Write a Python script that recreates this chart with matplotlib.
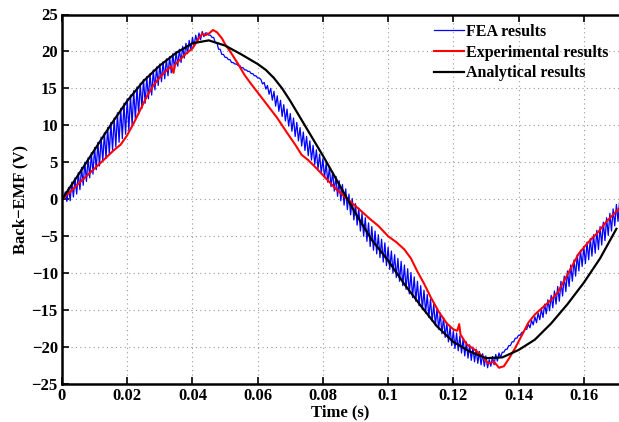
import numpy as np
from matplotlib import pyplot as plt

# Analytical results (black)
ana_t = [0.000, 0.005, 0.010, 0.015, 0.020, 0.025, 0.030, 0.035, 0.040, 0.045,
         0.050, 0.055, 0.060, 0.0625, 0.065, 0.0675, 0.070, 0.075, 0.080, 0.085,
         0.090, 0.095, 0.100, 0.105, 0.110, 0.115, 0.120, 0.125, 0.130, 0.135,
         0.140, 0.145, 0.150, 0.155, 0.160, 0.165, 0.170]
ana_v = [0.0, 3.3, 6.7, 10.1, 13.3, 16.0, 18.1, 19.8, 21.1, 21.5,
         20.8, 19.6, 18.3, 17.5, 16.4, 15.0, 13.3, 9.6, 5.9, 2.0,
         -1.9, -5.5, -8.3, -11.5, -14.4, -17.2, -19.3, -20.6, -21.5, -21.4,
         -20.4, -19.0, -16.8, -14.2, -11.3, -8.0, -4.0]

# Experimental results (red)
exp_t = [0.0, 0.003, 0.006, 0.0096, 0.012, 0.0158, 0.018, 0.0199, 0.022, 0.024,
         0.026, 0.028, 0.030, 0.032, 0.0335, 0.0342, 0.0346, 0.036, 0.038, 0.040,
         0.042, 0.043, 0.044, 0.045, 0.0463, 0.0475, 0.049, 0.050, 0.052, 0.054,
         0.056, 0.058, 0.062, 0.066, 0.069, 0.0715, 0.0735, 0.0755, 0.078, 0.081,
         0.084, 0.0876, 0.091, 0.094, 0.097, 0.100, 0.1025, 0.105, 0.107, 0.109,
         0.111, 0.113, 0.1155, 0.118, 0.120, 0.1212, 0.1218, 0.1222, 0.124, 0.127,
         0.129, 0.1307, 0.1325, 0.134, 0.1355, 0.137, 0.139, 0.1409, 0.143, 0.145,
         0.147, 0.150, 0.152, 0.155, 0.1584, 0.161, 0.1645, 0.167, 0.1707]
exp_v = [0.0, 1.2, 2.5, 4.0, 5.0, 6.6, 7.4, 8.6, 10.3, 12.1,
         13.9, 15.4, 16.5, 17.4, 18.0, 17.1, 18.2, 18.8, 19.7, 20.4,
         21.8, 22.4, 22.2, 22.4, 22.9, 22.6, 21.8, 21.0, 19.7, 18.3,
         16.8, 15.6, 13.3, 11.0, 9.0, 7.4, 6.0, 5.3, 4.2, 2.8,
         1.4, 0.0, -1.3, -2.5, -3.6, -5.0, -5.8, -6.8, -8.0, -9.8,
         -11.4, -13.2, -15.2, -16.8, -17.6, -17.8, -16.9, -18.3, -19.6, -20.5,
         -21.3, -22.2, -22.0, -22.8, -22.6, -21.6, -20.1, -18.5, -16.7, -15.6,
         -14.8, -13.6, -12.6, -10.2, -7.4, -6.0, -4.4, -3.0, -1.3]

# FEA results (blue): ripple tops and bottoms, one pair per ms (0 .. 171 ms)
fea_top = [0.0, 1.0, 1.6, 2.3, 2.9, 3.6, 4.3, 5.0, 5.6, 6.3,
           7.0, 7.7, 8.4, 9.0, 9.7, 10.4, 11.0, 11.7, 12.3, 13.0,
           13.6, 14.1, 14.7, 15.2, 15.7, 16.2, 16.6, 17.0, 17.5, 17.9,
           18.3, 18.6, 19.0, 19.3, 19.7, 20.0, 20.3, 20.7, 21.1, 21.5,
           21.9, 22.2, 22.5, 22.7, 22.5, 22.2, 21.9, 21.2, 20.3, 19.6,
           19.2, 18.9, 18.5, 18.3, 18.1, 17.8, 17.5, 17.3, 17.0, 16.7,
           16.4, 16.2, 15.8, 15.4, 15.0, 14.6, 14.0, 13.4, 12.8, 12.2,
           11.6, 11.0, 10.4, 9.7, 9.1, 8.5, 7.9, 7.3, 6.7, 6.1,
           5.5, 4.9, 4.3, 3.7, 3.1, 2.5, 2.0, 1.4, 0.7, 0.1,
           -0.6, -1.2, -1.9, -2.5, -3.2, -3.7, -4.3, -4.8, -5.4, -5.9,
           -6.5, -7.0, -7.5, -8.0, -8.4, -8.9, -9.4, -9.9, -10.5, -11.1,
           -11.7, -12.3, -12.9, -13.5, -14.2, -14.8, -15.4, -16.0, -16.7, -17.3,
           -17.8, -18.1, -18.5, -18.9, -19.3, -19.7, -20.0, -20.3, -20.6, -20.9,
           -21.2, -21.7, -21.3, -21.0, -20.8, -20.7, -20.3, -19.8, -19.3, -18.8,
           -18.4, -18.0, -17.6, -16.9, -16.4, -15.9, -15.4, -14.9, -14.2, -13.6,
           -13.0, -12.4, -11.8, -11.1, -10.4, -9.7, -8.9, -8.2, -7.5, -6.9,
           -6.4, -5.8, -5.3, -4.8, -4.2, -3.7, -3.1, -2.5, -1.9, -1.3,
           -0.7, -0.1]
fea_bottom = [0.0, -0.3, -0.2, 0.3, 0.7, 1.3, 1.9, 2.4, 2.9, 3.4,
              4.0, 4.5, 5.1, 5.5, 6.1, 6.6, 7.1, 7.7, 8.2, 8.8,
              9.3, 10.0, 10.8, 11.5, 12.3, 13.0, 13.6, 14.1, 14.8, 15.4,
              15.9, 16.3, 16.7, 17.1, 17.6, 18.0, 18.5, 19.1, 19.7, 20.2,
              20.7, 21.2, 21.6, 22.0, 22.5, 22.2, 21.9, 21.2, 20.3, 19.6,
              19.2, 18.9, 18.5, 18.3, 18.1, 17.8, 17.5, 17.3, 17.0, 16.7,
              16.4, 15.6, 14.9, 14.2, 13.4, 12.6, 11.9, 11.2, 10.6, 9.9,
              9.2, 8.5, 7.9, 7.2, 6.6, 5.9, 5.3, 4.7, 4.1, 3.5,
              2.9, 2.3, 1.7, 1.1, 0.4, -0.2, -0.8, -1.4, -2.1, -2.8,
              -3.5, -4.3, -5.0, -5.7, -6.4, -6.9, -7.4, -7.9, -8.5, -9.0,
              -9.5, -10.0, -10.6, -11.1, -11.7, -12.2, -12.8, -13.3, -13.8, -14.4,
              -14.9, -15.4, -16.0, -16.5, -17.1, -17.6, -18.2, -18.7, -19.3, -19.8,
              -20.2, -20.5, -20.8, -21.2, -21.5, -21.8, -22.0, -22.2, -22.4, -22.6,
              -22.8, -22.6, -22.4, -21.9, -21.4, -20.7, -20.3, -19.8, -19.3, -18.8,
              -18.4, -18.0, -17.6, -17.4, -17.0, -16.7, -16.3, -16.0, -15.5, -15.1,
              -14.7, -14.2, -13.8, -13.1, -12.5, -11.8, -11.1, -10.4, -9.7, -9.1,
              -8.7, -8.2, -7.7, -7.3, -6.8, -6.2, -5.6, -4.9, -4.3, -3.6,
              -3.0, -2.4]

x_ticks = [0, 0.02, 0.04, 0.06, 0.08, 0.1, 0.12, 0.14, 0.16]
y_ticks = [-25, -20, -15, -10, -5, 0, 5, 10, 15, 20, 25]

# FEA ripple: top at each whole ms, bottom half a ms later
t_ms = np.arange(len(fea_top)) * 0.001
fea_t = np.column_stack([t_ms, t_ms + 0.0005]).ravel()
fea_v = np.column_stack([fea_top, fea_bottom]).ravel()

plt.rcParams['font.family'] = ['Liberation Serif', 'DejaVu Serif']
plt.rcParams['font.weight'] = 'bold'

fig = plt.figure(figsize=(6.19, 4.22), dpi=100)
ax = fig.add_axes([62 / 619, 38 / 422, 557 / 619, 369.5 / 422])

ax.plot(fea_t, fea_v, color='#0000ff', lw=0.9, label='FEA results')
ax.plot(exp_t, exp_v, color='#ff0000', lw=1.5, label='Experimental results')
ax.plot(ana_t, ana_v, color='black', lw=1.6, label='Analytical results')

ax.set_xlim(0, 0.1708)
ax.set_ylim(-25, 25)
ax.set_xticks(x_ticks)
ax.set_xticklabels(['%g' % v for v in x_ticks])
ax.set_yticks(y_ticks)
ax.set_yticklabels([('%d' % v).replace('-', '\u2212') for v in y_ticks])
ax.tick_params(direction='in', length=5, width=1.2, top=True, right=False,
               labelsize=12, pad=3)
ax.grid(True, linestyle=(0, (1, 3)), color='#999999', lw=0.8)
for s in ax.spines.values():
    s.set_linewidth(1.8)
ax.spines['right'].set_visible(False)

ax.set_xlabel('Time (s)', fontsize=12, fontweight='bold', labelpad=0)
ax.set_ylabel('Back\u2212EMF (V)', fontsize=12, fontweight='bold', labelpad=2)

ax.legend(loc='upper left', bbox_to_anchor=(0.668, 0.975), frameon=False,
          fontsize=11.5, handlelength=1.9, handletextpad=0.1,
          labelspacing=0.3, borderpad=0, borderaxespad=0)

plt.savefig('out.png', dpi=100)
